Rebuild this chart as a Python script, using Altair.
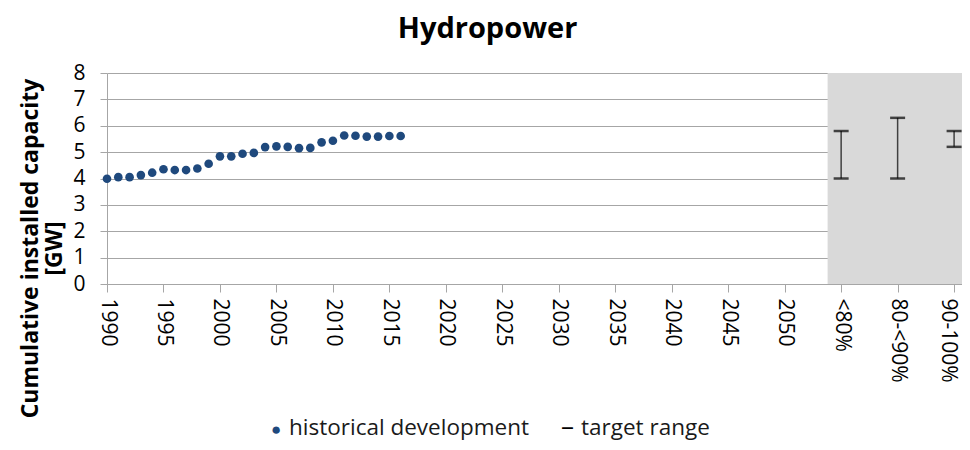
import altair as alt
import pandas as pd

FONT = "Open Sans"

years = list(range(1990, 2017))
capacity = [3.99, 4.05, 4.05, 4.13, 4.22, 4.35, 4.32, 4.32, 4.38, 4.56,
            4.84, 4.84, 4.94, 4.97, 5.19, 5.22, 5.20, 5.15, 5.16, 5.37,
            5.43, 5.63, 5.62, 5.59, 5.59, 5.61, 5.61]

target_pos = [2055, 2060, 2065]
target_labels = ["<80%", "80-<90%", "90-100%"]
target_low = [4.0, 4.0, 5.2]
target_high = [5.8, 6.3, 5.8]

shade_start, shade_end = 2053.8, 2065.7
tick_values = list(range(1990, 2051, 5)) + target_pos

hist = pd.DataFrame({"year": years, "cap": capacity})
targ = pd.DataFrame({"pos": target_pos, "lab": target_labels,
                     "lo": target_low, "hi": target_high})
shade = pd.DataFrame({"x": [shade_start], "x2": [shade_end], "y": [0], "y2": [8]})

label_expr = ("datum.value == 2055 ? '<80%' : datum.value == 2060 ? '80-<90%' : "
              "datum.value == 2065 ? '90-100%' : datum.value")

xscale = alt.Scale(domain=[1990, shade_end], nice=False, zero=False)
yscale = alt.Scale(domain=[0, 8], nice=False)

xaxis = alt.Axis(values=tick_values, labelExpr=label_expr, labelAngle=90,
                 labelAlign="left", labelBaseline="middle", labelFontSize=21,
                 labelFont=FONT, labelColor="#000000", labelPadding=6,
                 labelOffset={"condition": {"test": "datum.value == 2065", "value": -7},
                              "value": 0},
                 tickSize=8, tickColor="#a6a6a6", domainColor="#a6a6a6",
                 grid=False, title=None, labelOverlap=False, labelFlush=False)
yaxis = alt.Axis(values=list(range(0, 9)), labelFontSize=21, labelFont=FONT,
                 labelColor="#000000", labelPadding=15, tickSize=7,
                 tickColor="#a6a6a6", domainColor="#a6a6a6",
                 gridColor="#a6a6a6", gridWidth=1, labelOverlap=False,
                 title=["Cumulative installed capacity", "[GW]"],
                 titleFont=FONT, titleFontSize=23, titleFontWeight="bold",
                 titleColor="#000000", titleAngle=270, titleAlign="center",
                 titleBaseline="alphabetic", titleLineHeight=24,
                 titleX=-70, titleY=175)

X = lambda f: alt.X(f, scale=xscale, axis=xaxis)
Y = lambda f: alt.Y(f, scale=yscale, axis=yaxis)

rect = alt.Chart(shade).mark_rect(color="#d9d9d9").encode(
    x=X("x:Q"), x2="x2:Q", y=Y("y:Q"), y2="y2:Q")

dots = alt.Chart(hist).mark_circle(size=75, color="#1f497d", opacity=1).encode(
    x=X("year:Q"), y=Y("cap:Q"))

bars = alt.Chart(targ).mark_rule(color="#404040", strokeWidth=1.5).encode(
    x=X("pos:Q"), y=Y("lo:Q"), y2="hi:Q")
cap_lo = alt.Chart(targ).mark_tick(orient="horizontal", size=15, thickness=2.5,
                                   color="#000000").encode(
    x=X("pos:Q"), y=Y("lo:Q"))
cap_hi = alt.Chart(targ).mark_tick(orient="horizontal", size=15, thickness=2.5,
                                   color="#000000").encode(
    x=X("pos:Q"), y=Y("hi:Q"))

legend_items = ["historical development", "target range"]
legend_symbols = ["\u25cf", "\u2013"]
leg = pd.DataFrame({"t": legend_items, "s": legend_symbols,
                    "sx": [164, 454], "tx": [182, 474],
                    "sz": [17, 26],
                    "sc": ["#1f497d", "#000000"]})
leg_sym = alt.Chart(leg).mark_text(font=FONT, align="left",
                                   baseline="alphabetic").encode(
    x=alt.X("sx:Q", scale=None), y=alt.value(362), text="s:N",
    size=alt.Size("sz:Q", scale=None),
    color=alt.Color("sc:N", scale=None))
leg_txt = alt.Chart(leg).mark_text(font=FONT, fontSize=22.5, align="left",
                                   baseline="alphabetic", color="#1a1a1a").encode(
    x=alt.X("tx:Q", scale=None), y=alt.value(362), text="t:N")

chart = alt.layer(rect, dots, bars, cap_lo, cap_hi, leg_sym, leg_txt).properties(
    width=855, height=211,
    title=alt.TitleParams("Hydropower", font=FONT, fontSize=29, fontWeight="bold",
                          color="#000000", anchor="middle", dx=-47, offset=18),
    padding={"left": 99, "top": 65, "right": 0, "bottom": 158},
    autosize=alt.AutoSizeParams(type="none"),
).configure_view(stroke=None).configure_axis(domainWidth=1, tickWidth=1)

chart.save("out.html", embed_options={"renderer": "svg", "actions": False})
